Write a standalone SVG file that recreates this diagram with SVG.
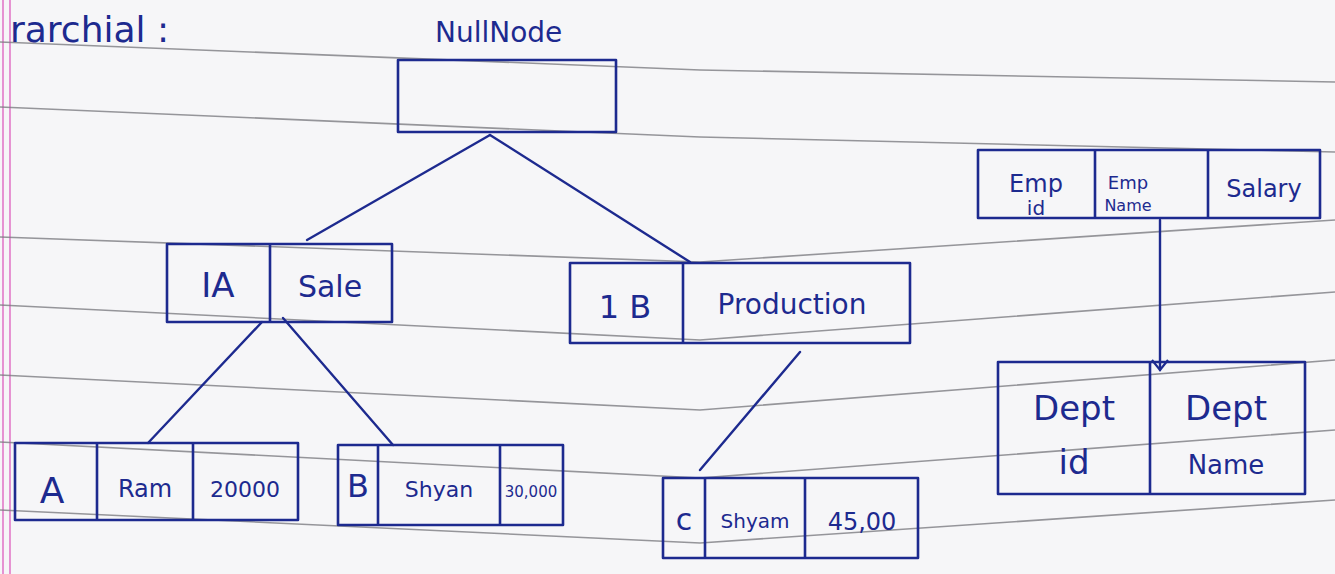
<svg xmlns="http://www.w3.org/2000/svg" width="1335" height="574" viewBox="0 0 1335 574">
<style>
.rule{fill:none;stroke:#7d7d82;stroke-width:1.6;opacity:0.8}
.box{fill:none;stroke:#1d2a8f;stroke-width:2.6;stroke-linejoin:round}
.edge{fill:none;stroke:#1d2a8f;stroke-width:2.4;stroke-linecap:round}
.t{font-family:"DejaVu Sans","Liberation Sans",sans-serif;fill:#1d2a8f;text-anchor:middle}
.lbl{font-family:"DejaVu Sans","Liberation Sans",sans-serif;fill:#1d2a8f}
</style>
<defs>
<marker id="vhead" markerWidth="20" markerHeight="20" refX="14" refY="10" orient="auto" markerUnits="userSpaceOnUse">
<path d="M4,2 L14,10 L4,18" fill="none" stroke="#1d2a8f" stroke-width="2.2"/>
</marker>
</defs>
<rect width="1335" height="574" fill="#f6f6f8"/>
<g id="paper">
<line x1="3" y1="0" x2="3" y2="574" stroke="#e27ac8" stroke-width="1.6"/>
<line x1="10" y1="0" x2="10" y2="574" stroke="#e27ac8" stroke-width="1.6"/>
<path class="rule" d="M0,42 L700,70 L1335,82"/>
<path class="rule" d="M0,107 L700,137 L1335,152"/>
<path class="rule" d="M0,237 L700,262 L1335,220"/>
<path class="rule" d="M0,305 L700,340 L1335,292"/>
<path class="rule" d="M0,375 L700,410 L1335,360"/>
<path class="rule" d="M0,442 L700,478 L1335,430"/>
<path class="rule" d="M0,510 L700,543 L1335,500"/>
</g>
<g id="heading">
<text class="lbl" x="10" y="42" font-size="36">rarchial :</text>
<text class="lbl" x="435" y="42" font-size="28">NullNode</text>
</g>
<g id="connectors">
<line class="edge" x1="490" y1="135" x2="307" y2="240"/>
<line class="edge" x1="490" y1="135" x2="690" y2="262"/>
<line class="edge" x1="262" y1="322" x2="148" y2="443"/>
<line class="edge" x1="283" y1="318" x2="393" y2="445"/>
<line class="edge" x1="800" y1="352" x2="700" y2="470"/>
<line class="edge" x1="1160" y1="220" x2="1160" y2="370" marker-end="url(#vhead)"/>
</g>
<g id="null-node">
<rect class="box" x="398" y="60" width="218" height="72"/>
</g>
<g id="node-1A">
<rect class="box" x="167" y="244" width="225" height="78"/>
<line class="box" x1="270" y1="244" x2="270" y2="322"/>
<text class="t" x="218" y="297" font-size="34">IA</text>
<text class="t" x="330" y="297" font-size="30">Sale</text>
</g>
<g id="node-1B">
<rect class="box" x="570" y="263" width="340" height="80"/>
<line class="box" x1="683" y1="263" x2="683" y2="343"/>
<text class="t" x="625" y="318" font-size="32">1 B</text>
<text class="t" x="792" y="314" font-size="28">Production</text>
</g>
<g id="emp-table">
<rect class="box" x="978" y="150" width="342" height="68"/>
<line class="box" x1="1095" y1="150" x2="1095" y2="218"/>
<line class="box" x1="1208" y1="150" x2="1208" y2="218"/>
<text class="t" x="1036" y="192" font-size="24">Emp</text>
<text class="t" x="1036" y="215" font-size="20">id</text>
<text class="t" x="1128" y="189" font-size="18">Emp</text>
<text class="t" x="1128" y="211" font-size="16">Name</text>
<text class="t" x="1264" y="197" font-size="24">Salary</text>
</g>
<g id="dept-table">
<rect class="box" x="998" y="362" width="307" height="132"/>
<line class="box" x1="1150" y1="362" x2="1150" y2="494"/>
<text class="t" x="1074" y="420" font-size="34">Dept</text>
<text class="t" x="1074" y="474" font-size="34">id</text>
<text class="t" x="1226" y="420" font-size="34">Dept</text>
<text class="t" x="1226" y="474" font-size="26">Name</text>
</g>
<g id="row-A">
<rect class="box" x="15" y="443" width="283" height="77"/>
<line class="box" x1="97" y1="443" x2="97" y2="520"/>
<line class="box" x1="193" y1="443" x2="193" y2="520"/>
<text class="t" x="52" y="503" font-size="36">A</text>
<text class="t" x="145" y="497" font-size="24">Ram</text>
<text class="t" x="245" y="497" font-size="22">20000</text>
</g>
<g id="row-B">
<rect class="box" x="338" y="445" width="225" height="80"/>
<line class="box" x1="378" y1="445" x2="378" y2="525"/>
<line class="box" x1="500" y1="445" x2="500" y2="525"/>
<text class="t" x="358" y="497" font-size="32">B</text>
<text class="t" x="439" y="497" font-size="22">Shyan</text>
<text class="t" x="531" y="497" font-size="15">30,000</text>
</g>
<g id="row-C">
<rect class="box" x="663" y="478" width="255" height="80"/>
<line class="box" x1="705" y1="478" x2="705" y2="558"/>
<line class="box" x1="805" y1="478" x2="805" y2="558"/>
<text class="t" x="684" y="530" font-size="30">c</text>
<text class="t" x="755" y="528" font-size="20">Shyam</text>
<text class="t" x="862" y="530" font-size="24">45,00</text>
</g>
</svg>
